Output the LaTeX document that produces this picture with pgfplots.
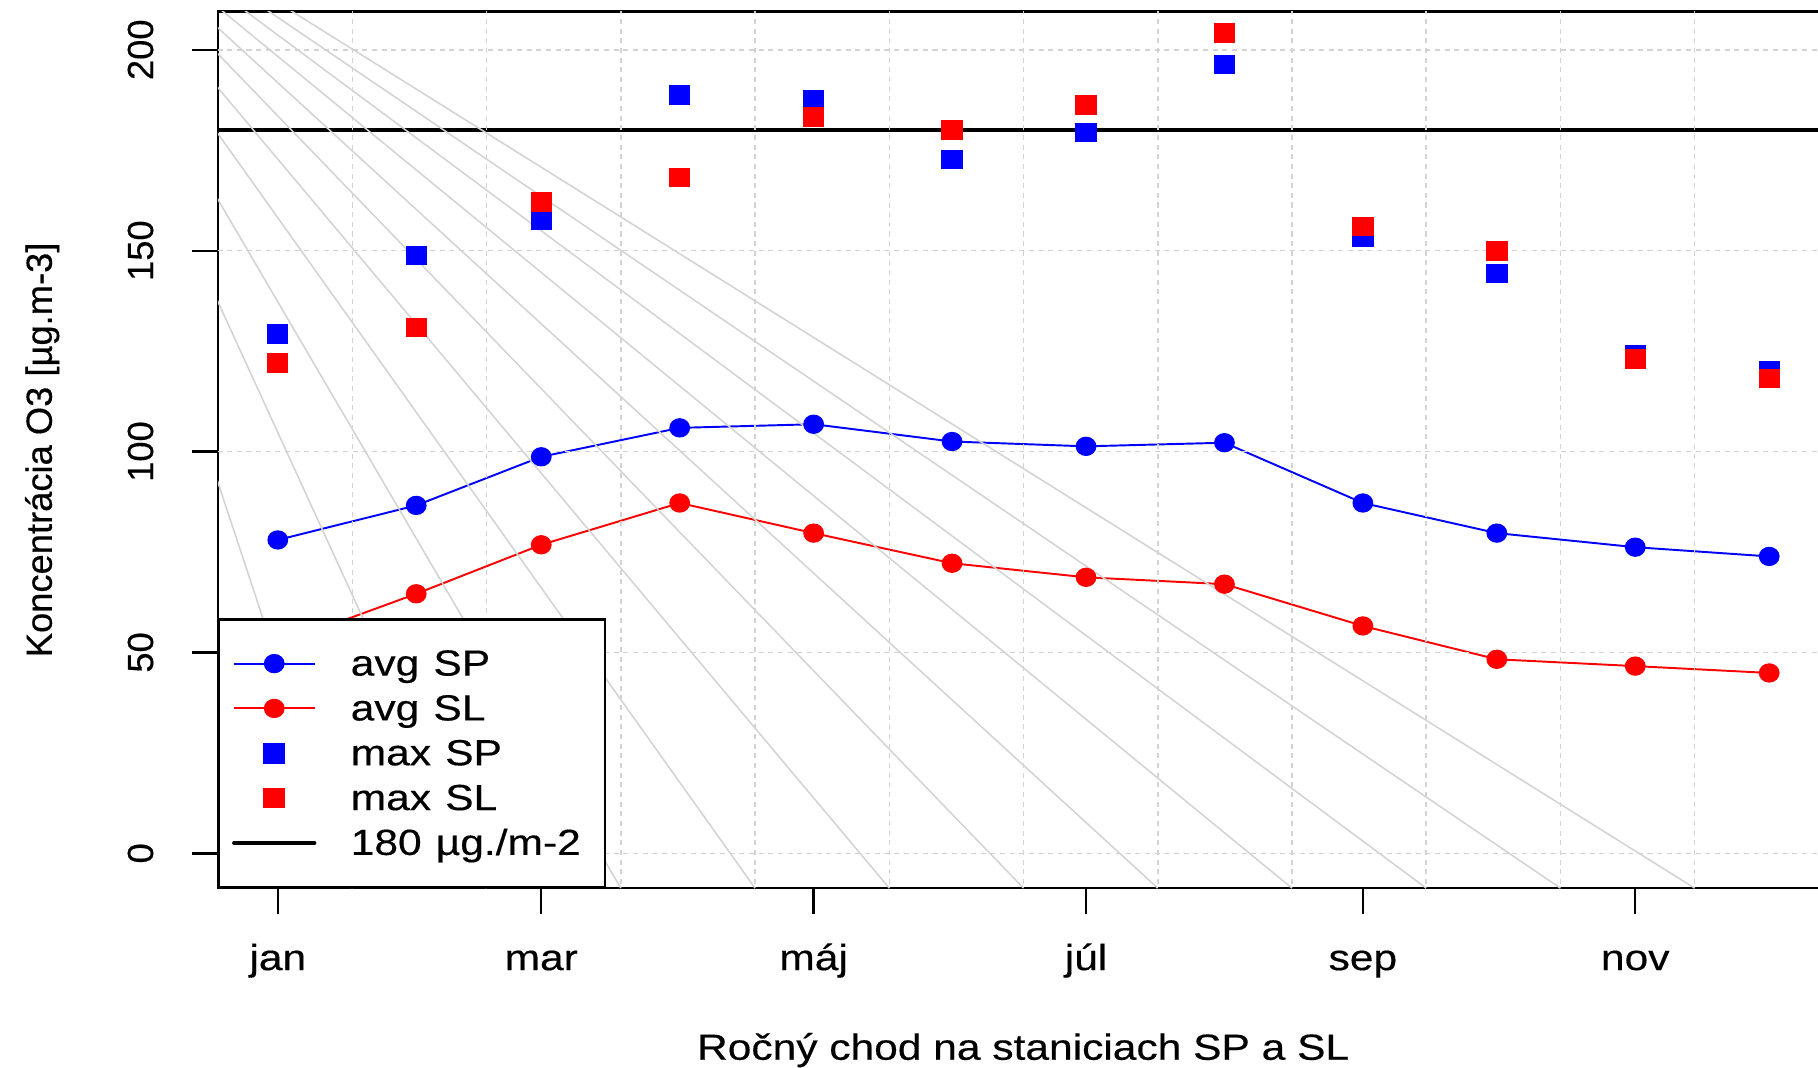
\documentclass[border=0pt]{standalone}
\usepackage{fontspec}
\setmainfont{Liberation Sans}[FakeBold=0.35]
\usepackage{graphicx}
\usepackage{pgfplots}
\pgfplotsset{compat=1.18}
\definecolor{gridgray}{RGB}{211,211,211}
\newcommand{\fs}{\fontsize{9.4}{11.2}\selectfont}
\newcommand{\hs}[1]{\scalebox{1.17}[1]{#1}}
\pgfplotsset{
  leglong/.style={legend image code/.code={\draw[mark repeat=2,mark phase=2,##1] plot coordinates {(0pt,0pt) (10.45pt,0pt) (20.9pt,0pt)};}},
  gridline/.style={gridgray, line width=0.4pt, dash pattern=on 1.3pt off 1.2pt, forget plot},
  fanline/.style={gridgray, line width=0.4pt, forget plot},
}
\begin{document}
\begin{tikzpicture}
\begin{axis}[
  at={(56.4pt,46.5pt)}, anchor=south west,
  scale only axis, width=415pt, height=226.8pt,
  xmin=-13.4, xmax=345.8, ymin=-8.66, ymax=209.5,
  axis line style={line width=0.6pt},
  tick pos=left, tick align=outside, major tick length=6.6pt,
  tick style={line width=0.6pt, black},
  xtick={0,59,120,181,243,304},
  xticklabels={\hs{jan},\hs{mar},\hs{máj},\hs{júl},\hs{sep},\hs{nov}},
  ytick={0,50,100,150,200},
  yticklabels={0,50,100,150,200},
  every tick label/.append style={font=\fs},
  xticklabel style={anchor=base, yshift=-14.6pt},
  yticklabel style={xshift=-10.2pt, rotate=90, anchor=base},
  xlabel={\hs{Ročný chod na staniciach SP a SL}},
  ylabel={Koncentrácia O3 [µg.m-3]},
  every axis x label/.style={at={(axis description cs:0.502,0)}, anchor=base, yshift=-44.4pt, font=\fs},
  every axis y label/.style={at={(axis description cs:0,0.5)}, xshift=-43.0pt, rotate=90, anchor=base, font=\fs},
  legend cell align=left,
  legend style={at={(axis description cs:0,0)}, anchor=south west, draw=black, line width=0.6pt, fill=white,
    inner xsep=3.36pt, inner ysep=5.6pt, row sep=0pt, column sep=8.9pt, font=\fs,
    nodes={inner sep=0pt, text height=8.9pt, text depth=2.7pt},
    /tikz/every even column/.append style={text width=62.5pt, align=left}},
]
\addplot[blue, line width=0.5pt, mark=*, mark size=2.35pt, mark options={solid, line width=0.3pt, xscale=1.08}, leglong] coordinates {
(0,78.0) (31,86.6) (59,98.7) (90,105.9) (120,106.8) (151,102.5) (181,101.3) (212,102.2) (243,87.2) (273,79.7) (304,76.2) (334,73.9)};
\addlegendentry{\hs{avg SP}}
\addplot[red, line width=0.5pt, mark=*, mark size=2.35pt, mark options={solid, line width=0.3pt, xscale=1.08}, leglong] coordinates {
(0,52.0) (31,64.6) (59,76.8) (90,87.2) (120,79.7) (151,72.2) (181,68.7) (212,67.0) (243,56.6) (273,48.3) (304,46.6) (334,44.9)};
\addlegendentry{\hs{avg SL}}
\addplot[only marks, blue, mark=square*, mark size=2.35pt, mark options={draw=none, fill=blue, xscale=1.09}, leglong] coordinates {
(0,129.2) (31,148.8) (59,157.5) (90,188.8) (120,187.6) (151,172.7) (181,179.4) (212,196.3) (243,153.3) (273,144.3) (304,124.0) (334,120.0)};
\addlegendentry{\hs{max SP}}
\addplot[only marks, red, mark=square*, mark size=2.35pt, mark options={draw=none, fill=red, xscale=1.09}, leglong] coordinates {
(0,122.1) (31,130.9) (59,162.2) (90,168.2) (120,183.3) (151,180.1) (181,186.3) (212,204.2) (243,156.0) (273,150.0) (304,123.0) (334,118.2)};
\addlegendentry{\hs{max SL}}
\addplot[black, line width=0.9pt, line cap=round, leglong] coordinates {(-20,180) (360,180)};
\addlegendentry{\hs{180 µg./m-2}}
% grid
\pgfplotsinvokeforeach{0,50,100,150,200}{\addplot[gridline] coordinates {(-20,#1) (360,#1)};}
\pgfplotsinvokeforeach{16.70,46.76,76.82,106.88,136.94,167.00,197.06,227.12,257.18,287.24,317.30}{\addplot[gridline] coordinates {(#1,-10) (#1,215)};}
% fan lines
\pgfplotsinvokeforeach{16.70,46.76,76.82,106.88,136.94,167.00,197.06,227.12,257.18,287.24,317.30}{\addplot[fanline] coordinates {(-61.83,254.7) (#1,-8.66)};}
\end{axis}
\pgfresetboundingbox
\useasboundingbox (0,0) rectangle (470.4pt,276.3pt);
\end{tikzpicture}
\end{document}
